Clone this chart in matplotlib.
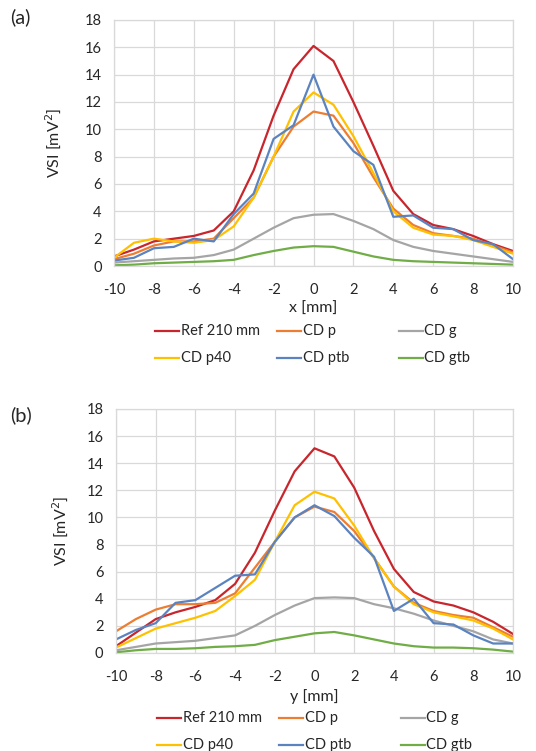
import matplotlib
matplotlib.use("Agg")
import matplotlib.pyplot as plt
from matplotlib.lines import Line2D

plt.rcParams['font.family'] = ['Lato', 'DejaVu Sans']
plt.rcParams['axes.unicode_minus'] = False

pos = list(range(-10, 11))

# panel (a): scan along x
a_ref = [0.7, 1.2, 1.8, 2.0, 2.2, 2.6, 4.0, 7.0, 11.0, 14.4, 16.1, 15.0, 12.0, 8.8, 5.5, 3.8, 3.0, 2.7, 2.2, 1.6, 1.1]
a_p = [0.5, 0.9, 1.5, 1.8, 1.8, 2.0, 3.5, 5.0, 8.0, 10.2, 11.3, 11.0, 9.0, 6.5, 4.2, 3.0, 2.4, 2.2, 2.0, 1.5, 1.0]
a_g = [0.25, 0.35, 0.45, 0.55, 0.6, 0.8, 1.2, 2.0, 2.8, 3.5, 3.75, 3.8, 3.3, 2.7, 1.9, 1.4, 1.1, 0.9, 0.7, 0.5, 0.3]
a_p40 = [0.6, 1.7, 2.0, 1.8, 1.7, 1.9, 2.9, 5.0, 8.0, 11.3, 12.7, 11.8, 9.5, 6.8, 4.0, 2.8, 2.3, 2.2, 1.9, 1.4, 0.9]
a_ptb = [0.4, 0.6, 1.3, 1.4, 2.0, 1.8, 3.8, 5.3, 9.3, 10.3, 14.0, 10.2, 8.4, 7.4, 3.6, 3.7, 2.8, 2.7, 1.9, 1.6, 0.5]
a_gtb = [0.05, 0.1, 0.2, 0.25, 0.3, 0.35, 0.45, 0.8, 1.1, 1.35, 1.45, 1.4, 1.05, 0.7, 0.45, 0.35, 0.3, 0.25, 0.2, 0.15, 0.1]

# panel (b): scan along y
b_ref = [0.5, 1.5, 2.5, 3.0, 3.4, 3.9, 5.1, 7.4, 10.5, 13.4, 15.1, 14.5, 12.2, 9.0, 6.2, 4.5, 3.8, 3.5, 3.0, 2.3, 1.4]
b_p = [1.6, 2.5, 3.2, 3.6, 3.6, 3.7, 4.4, 6.3, 8.2, 10.0, 10.8, 10.4, 9.0, 7.0, 4.9, 3.7, 3.1, 2.8, 2.6, 1.9, 1.2]
b_g = [0.2, 0.45, 0.7, 0.8, 0.9, 1.1, 1.3, 2.0, 2.8, 3.5, 4.05, 4.1, 4.05, 3.6, 3.3, 2.9, 2.4, 2.0, 1.6, 1.0, 0.7]
b_p40 = [0.4, 1.1, 1.8, 2.2, 2.6, 3.1, 4.2, 5.4, 8.2, 10.9, 11.9, 11.4, 9.4, 7.0, 4.9, 3.6, 3.0, 2.7, 2.4, 1.8, 1.0]
b_ptb = [1.0, 1.7, 2.2, 3.7, 3.9, 4.8, 5.7, 5.8, 8.2, 10.0, 10.9, 10.1, 8.5, 7.1, 3.1, 4.0, 2.2, 2.1, 1.3, 0.7, 0.7]
b_gtb = [0.05, 0.2, 0.3, 0.3, 0.35, 0.45, 0.5, 0.6, 0.95, 1.2, 1.45, 1.55, 1.3, 1.0, 0.7, 0.5, 0.4, 0.4, 0.35, 0.25, 0.1]

names = ["Ref 210 mm", "CD p", "CD g", "CD p40", "CD ptb", "CD gtb"]
colors = ["#C8252C", "#ED7D31", "#A5A5A5", "#FFC000", "#5B83C0", "#70AD47"]

fig = plt.figure(figsize=(5.36, 7.51), dpi=100)

# tag, x label, series, axes rect, ylabel x (axes frac), tag position (fig frac)
panels = [
    ("(a)", "x [mm]", [a_ref, a_p, a_g, a_p40, a_ptb, a_gtb], [0.2127, 0.6458, 0.7444, 0.3276], -0.128, (0.038, 0.977)),
    ("(b)", "y [mm]", [b_ref, b_p, b_g, b_p40, b_ptb, b_gtb], [0.2164, 0.1305, 0.7407, 0.3249], -0.116, (0.040, 0.447)),
]

grid_c = "#D9D9D9"
txt_c = "#262626"

for tag, xlab, series, rect, ylx, tagpos in panels:
    ax = fig.add_axes(rect)
    for name, vals, c in zip(names, series, colors):
        ax.plot(pos, vals, color=c, lw=1.6, label=name)
    ax.set_xlim(-10, 10)
    ax.set_ylim(0, 18)
    ax.set_xticks(range(-10, 11, 2))
    ax.set_yticks(range(0, 19, 2))
    ax.grid(True, color=grid_c, lw=0.9)
    ax.set_axisbelow(True)
    for s in ax.spines.values():
        s.set_color(grid_c)
        s.set_linewidth(0.9)
    ax.tick_params(axis='x', length=0, labelsize=10.5, colors=txt_c, pad=12)
    ax.tick_params(axis='y', length=0, labelsize=10.5, colors=txt_c, pad=9)
    ax.set_xlabel(xlab, fontsize=11.5, color=txt_c, labelpad=4)
    ax.set_ylabel("VSI [mV$^2$]", fontsize=11.5, color=txt_c)
    ax.yaxis.set_label_coords(ylx, 0.5)
    fig.text(tagpos[0], tagpos[1], tag, fontsize=14.5, color=txt_c, ha="center", va="center")

    # legend laid out like the spreadsheet: three equal columns, two rows
    x0 = rect[0] + 0.077
    y_row1 = rect[1] - 0.0865
    col_w = 0.227
    row_h = 0.0355
    for k in range(len(names)):
        col = k % 3
        row = k // 3
        lx = x0 + col * col_w
        ly = y_row1 - row * row_h
        fig.add_artist(Line2D([lx, lx + 0.045], [ly, ly], color=colors[k], lw=1.6,
                              transform=fig.transFigure))
        fig.text(lx + 0.048, ly, names[k], fontsize=10.5, color=txt_c, va="center", ha="left")

fig.savefig("out.png", dpi=100, facecolor="white")
